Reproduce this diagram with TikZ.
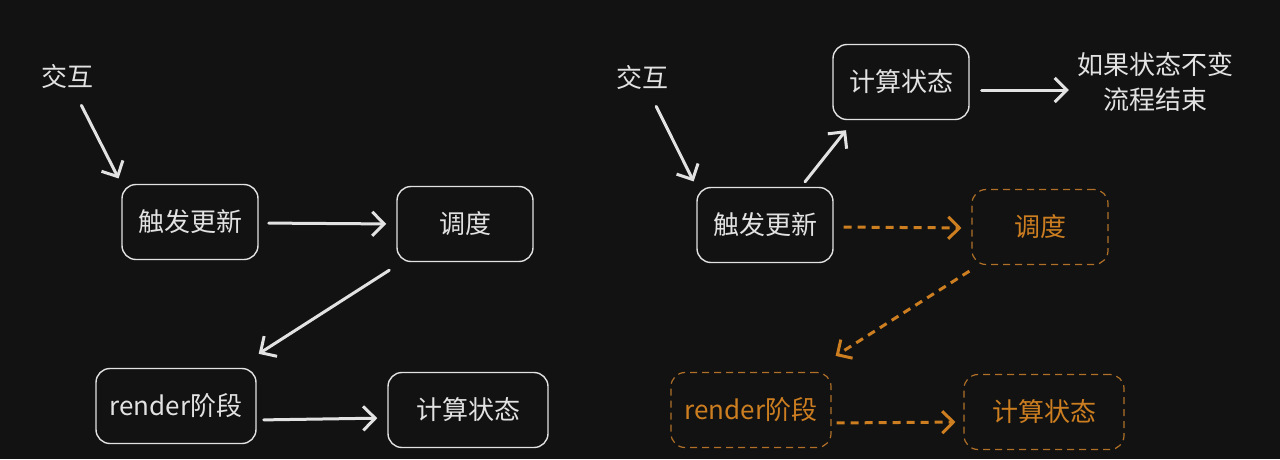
\documentclass[tikz,border=0pt]{standalone}
\usepackage{fontspec}
\setmainfont{Noto Sans CJK SC}
\usetikzlibrary{arrows.meta,calc}
\definecolor{bg}{RGB}{18,18,18}
\definecolor{ink}{RGB}{226,226,226}
\definecolor{amber}{RGB}{204,126,32}
\definecolor{amberline}{RGB}{176,112,40}
\begin{document}
\begin{tikzpicture}[x=1pt,y=-1pt,
  txt/.style={text=ink, font=\fontsize{26}{35}\selectfont, inner sep=0pt, align=center},
  box/.style={draw=ink, line width=1.4pt, rounded corners=14pt, text=ink,
    font=\fontsize{26}{30}\selectfont, minimum width=136pt, minimum height=75pt, inner sep=0pt},
  wide/.style={minimum width=160pt},
  hotbox/.style={box, draw=amberline, text=amber, line width=1.2pt, dash pattern=on 7pt off 5pt},
  arr/.style={draw=ink, line width=3pt, line cap=round,
    -{Straight Barb[length=12pt,width=24pt,line width=3pt]}},
  hotarr/.style={draw=amber, line width=3pt, dash pattern=on 8pt off 6pt,
    -{Straight Barb[length=11pt,width=22pt,line width=3pt]}},
]
\fill[bg] (0,0) rectangle (1280,459);
\useasboundingbox (0,0) rectangle (1280,459);

% ---- normal update flow ----
\node[txt] (ia) at (67,77) {交互};
\node[box] (ta) at (190,222) {触发更新};
\node[box] (sa) at (465,224) {调度};
\node[box,wide] (ra) at (176,406) {render阶段};
\node[box,wide] (ca) at (468,410) {计算状态};

\draw[arr, shorten <=18pt, shorten >=6pt] (ia) -- (ta.north west);
\draw[arr, shorten <=10pt, shorten >=10pt] ($(ta.east)+(0,1)$) -- ($(sa.west)+(0,0)$);
\draw[arr] ($(sa.south west)+(-7,8)$) -- ($(ra.north east)+(2,-14)$);
\draw[arr, shorten <=7pt, shorten >=10pt] ($(ra.east)+(0,14)$) -- ($(ca.west)+(0,8)$);

% ---- bail-out when state is unchanged ----
\node[txt] (ib) at (642,78) {交互};
\node[box] (tb) at (765,225) {触发更新};
\node[box] (cb) at (901,82) {计算状态};
\node[txt] (eb) at (1155,82) {如果状态不变\\流程结束};
\node[hotbox] (sb) at (1040,227) {调度};
\node[hotbox,wide] (rb) at (751,410) {render阶段};
\node[hotbox,wide] (kb) at (1044,412) {计算状态};

\draw[arr, shorten <=18pt, shorten >=6pt] (ib) -- (tb.north west);
\draw[arr] ($(tb.north)+(40,-5)$) -- ($(cb.south)+(-55,10)$);
\draw[arr, shorten <=12pt, shorten >=8pt] ($(cb.east)+(0,8)$) -- ($(eb.west)+(0,8)$);
\draw[hotarr, shorten <=10pt, shorten >=10pt] ($(tb.east)+(0,2)$) -- ($(sb.west)+(0,1)$);
\draw[hotarr] ($(sb.south west)+(-2,6)$) -- ($(rb.north east)+(4,-16)$);
\draw[hotarr, shorten <=5pt, shorten >=8pt] ($(rb.east)+(0,13)$) -- ($(kb.west)+(0,10)$);
\end{tikzpicture}
\end{document}
